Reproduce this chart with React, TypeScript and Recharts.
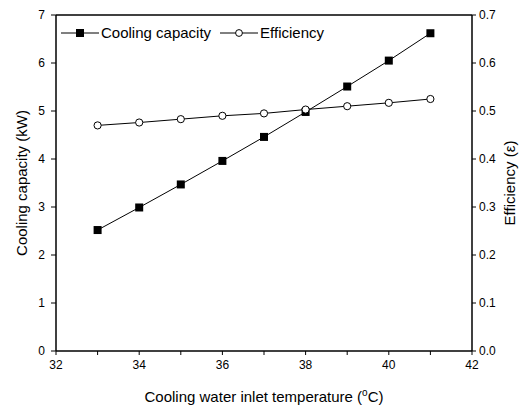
import React from 'react';
import {
  LineChart,
  Line,
  XAxis,
  YAxis,
  ReferenceLine,
} from 'recharts';

// inlet temperature (°C)
const temperatures = [33, 34, 35, 36, 37, 38, 39, 40, 41];
// cooling capacity (kW)
const capacity = [2.52, 2.99, 3.47, 3.96, 4.46, 4.98, 5.51, 6.05, 6.62];
// efficiency (-)
const efficiency = [0.47, 0.476, 0.483, 0.49, 0.495, 0.503, 0.51, 0.517, 0.525];

const xTicks = [32, 33, 34, 35, 36, 37, 38, 39, 40, 41, 42];
const leftTicks = [0, 1, 2, 3, 4, 5, 6, 7];
const rightTicks = [0, 0.1, 0.2, 0.3, 0.4, 0.5, 0.6, 0.7];

const data = temperatures.map((t, i) => ({
  t,
  capacity: capacity[i],
  efficiency: efficiency[i],
}));

const FONT = '"Liberation Sans", Arial, sans-serif';
const tickStyle = { fontSize: 12, fill: '#000', fontFamily: FONT };

const SquareDot = (props: any) => {
  const { cx, cy } = props;
  if (cx == null || cy == null) return null;
  return <rect x={cx - 4} y={cy - 4} width={8} height={8} fill="#000" />;
};

const CircleDot = (props: any) => {
  const { cx, cy } = props;
  if (cx == null || cy == null) return null;
  return <circle cx={cx} cy={cy} r={3.6} fill="#fff" stroke="#000" strokeWidth={1} />;
};

// legend sits inside the plot frame, so it is laid over the chart
const LegendBox = () => (
  <div
    style={{
      position: 'absolute',
      left: 61,
      top: 24,
      display: 'flex',
      alignItems: 'center',
      fontFamily: FONT,
      fontSize: 15,
      lineHeight: '18px',
      color: '#000',
      whiteSpace: 'nowrap',
    }}
  >
    <svg width={38} height={12} style={{ display: 'block' }}>
      <line x1={0} y1={6} x2={38} y2={6} stroke="#000" />
      <rect x={15} y={2} width={8} height={8} fill="#000" />
    </svg>
    <span style={{ marginLeft: 2, marginRight: 9 }}>Cooling capacity</span>
    <svg width={38} height={12} style={{ display: 'block' }}>
      <line x1={0} y1={6} x2={38} y2={6} stroke="#000" />
      <circle cx={19} cy={6} r={3.4} fill="#fff" stroke="#000" />
    </svg>
    <span style={{ marginLeft: 2 }}>Efficiency</span>
  </div>
);

const XTitle = () => (
  <text x={264} y={402} textAnchor="middle" fontFamily={FONT} fontSize={15} fill="#000">
    Cooling water inlet temperature (
    <tspan dy={-6} fontSize={10}>o</tspan>
    <tspan dy={6}>C)</tspan>
  </text>
);

export default function App() {
  return (
    <div style={{ position: 'absolute', left: 0, top: 0, width: 522, height: 410, background: '#fff' }}>
      <LineChart
        width={522}
        height={410}
        data={data}
        margin={{ top: 15, right: 0, bottom: 0, left: 0 }}
      >
        <XAxis
          dataKey="t"
          type="number"
          domain={[32, 42]}
          ticks={xTicks}
          interval={0}
          tickFormatter={(v: number) => (v % 2 === 0 ? String(v) : '')}
          height={59}
          tickSize={4}
          tickMargin={5}
          stroke="#000"
          tick={tickStyle}
          axisLine={{ stroke: '#000', strokeWidth: 1.5 }}
          label={<XTitle />}
        />
        <YAxis
          yAxisId="left"
          domain={[0, 7]}
          ticks={leftTicks}
          interval={0}
          width={56}
          tickSize={5}
          tickMargin={6}
          stroke="#000"
          tick={tickStyle}
          axisLine={{ stroke: '#000', strokeWidth: 1.5 }}
          label={{
            value: 'Cooling capacity (kW)',
            angle: -90,
            position: 'insideLeft',
            offset: 22,
            style: { textAnchor: 'middle', fontSize: 15, fill: '#000', fontFamily: FONT },
          }}
        />
        <YAxis
          yAxisId="right"
          orientation="right"
          domain={[0, 0.7]}
          ticks={rightTicks}
          interval={0}
          width={50}
          tickSize={4}
          tickMargin={3}
          stroke="#000"
          tick={tickStyle}
          tickFormatter={(v: number) => v.toFixed(1)}
          axisLine={{ stroke: '#000', strokeWidth: 1.5 }}
          label={{
            value: 'Efficiency (ε)',
            angle: -90,
            position: 'insideRight',
            offset: 12,
            style: { textAnchor: 'middle', fontSize: 15, fill: '#000', fontFamily: FONT },
          }}
        />
        <ReferenceLine yAxisId="left" y={7} stroke="#000" strokeWidth={1.5} />
        <Line
          yAxisId="left"
          dataKey="capacity"
          stroke="#000"
          strokeWidth={1}
          dot={<SquareDot />}
          isAnimationActive={false}
        />
        <Line
          yAxisId="right"
          dataKey="efficiency"
          stroke="#000"
          strokeWidth={1}
          dot={<CircleDot />}
          isAnimationActive={false}
        />
      </LineChart>
      <LegendBox />
    </div>
  );
}
